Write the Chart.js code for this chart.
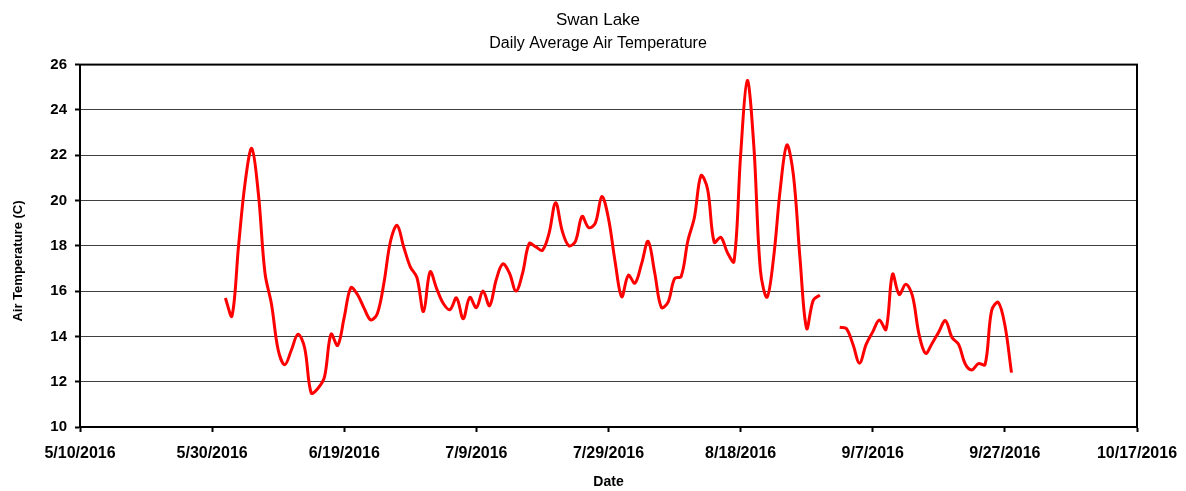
<!DOCTYPE html>
<html>
<head>
<meta charset="utf-8">
<title>Swan Lake</title>
<script src="https://cdn.jsdelivr.net/npm/chart.js@4/dist/chart.umd.min.js"></script>
<style>
  html, body { margin: 0; padding: 0; background: #fff; }
  #chart { display: block; }
</style>
</head>
<body>
<canvas id="chart" width="1186" height="491"></canvas>
<script>
// axis range (dates) and daily average air temperature (C)
const axisStart = '5/10/2016';
const axisEnd = '10/17/2016';
const tickStepDays = 20;
const yMin = 10, yMax = 26, yStep = 2;

const juneStart = '6/1/2016';
const juneTemps = [15.7, 14.9, 18.0, 20.8, 22.3, 20.3, 16.8, 15.4, 13.4, 12.75,
                   13.4, 14.1, 13.5, 11.5, 11.7, 12.2, 14.1, 13.6, 14.85, 16.15,
                   15.85, 15.25, 14.73, 15.0, 16.35, 18.2, 18.9, 17.95, 17.07, 16.6];

const julyStart = '7/1/2016';
const julyTemps = [15.1, 16.85, 16.1, 15.45, 15.18, 15.7, 14.78, 15.72, 15.27, 16.0,
                   15.35, 16.5, 17.2, 16.8, 16.0, 16.8, 18.1, 17.95, 17.8, 18.55,
                   19.9, 18.65, 18.0, 18.2, 19.3, 18.8, 19.0, 20.18, 19.2, 17.3, 15.75];

const augustStart = '8/1/2016';
const augustTemps = [16.7, 16.35, 17.2, 18.2, 16.8, 15.28, 15.5, 16.55, 16.65, 18.2,
                     19.25, 21.1, 20.5, 18.15, 18.38, 17.7, 17.3, 22.0, 25.3, 22.4,
                     16.9, 15.73, 17.5, 20.5, 22.45, 21.1, 17.4, 14.35, 15.6, 15.82, null];

const septemberStart = '9/1/2016';
const septemberTemps = [null, 14.4, 14.35, 13.65, 12.82, 13.65, 14.2, 14.72, 14.3, 16.75,
                        15.85, 16.3, 15.8, 14.1, 13.25, 13.7, 14.2, 14.7, 13.95, 13.65,
                        12.78, 12.52, 12.8, 12.75, 15.15, 15.5, 14.5, 12.4];

const yTitle = 'Air Temperature (C)';

const DAY = 86400000;

function parseDate(s) {
    const [m, d, y] = s.split('/').map(Number);
    return Date.UTC(y, m - 1, d);
}

function dayOffset(s) {
    return Math.round((parseDate(s) - parseDate(axisStart)) / DAY);
}

function formatDay(offset) {
    const dt = new Date(parseDate(axisStart) + offset * DAY);
    return (dt.getUTCMonth() + 1) + '/' + dt.getUTCDate() + '/' + dt.getUTCFullYear();
}

function toPoints(start, temps) {
    const first = dayOffset(start);
    return temps.map((t, i) => ({ x: first + i, y: t }));
}

const points = [
    ...toPoints(juneStart, juneTemps),
    ...toPoints(julyStart, julyTemps),
    ...toPoints(augustStart, augustTemps),
    ...toPoints(septemberStart, septemberTemps)
];

const font = 'Arial, "Liberation Sans", sans-serif';

// black box round the plot area and the vertical axis title, as in the original
const plotFrame = {
    id: 'plotFrame',
    afterDatasetsDraw(chart) {
        const { ctx, chartArea: a } = chart;
        ctx.save();
        ctx.strokeStyle = '#000';
        ctx.lineWidth = 2;
        ctx.strokeRect(a.left, a.top, a.right - a.left, a.bottom - a.top);

        ctx.translate(18, 261);
        ctx.rotate(-Math.PI / 2);
        ctx.fillStyle = '#000';
        ctx.font = 'bold 13px ' + font;
        ctx.textAlign = 'center';
        ctx.textBaseline = 'middle';
        ctx.fillText(yTitle, 0, 0);
        ctx.restore();
    }
};

new Chart(document.getElementById('chart'), {
    type: 'line',
    data: {
        datasets: [{
            label: 'Air Temperature',
            data: points,
            borderColor: '#ff0000',
            borderWidth: 3,
            pointRadius: 0,
            tension: 0.35,
            spanGaps: false,
            fill: false
        }]
    },
    options: {
        responsive: false,
        animation: false,
        layout: { padding: { left: 10, right: 0, top: 0, bottom: 0 } },
        plugins: {
            legend: { display: false },
            tooltip: { enabled: false },
            title: {
                display: true,
                text: 'Swan Lake',
                color: '#000',
                font: { family: font, size: 17, weight: 'normal' },
                padding: { top: 10, bottom: 4 }
            },
            subtitle: {
                display: true,
                text: 'Daily Average Air Temperature',
                color: '#000',
                font: { family: font, size: 16, weight: 'normal' },
                padding: { top: 0, bottom: 11 }
            }
        },
        scales: {
            x: {
                type: 'linear',
                min: 0,
                max: dayOffset(axisEnd),
                afterFit(scale) {
                    scale.height = 64;
                    scale.paddingLeft = 0;
                    scale.paddingRight = 0;
                },
                border: { display: true, color: '#000', width: 2 },
                grid: {
                    drawOnChartArea: false,
                    drawTicks: true,
                    tickLength: 5,
                    tickColor: '#000',
                    tickWidth: 2
                },
                ticks: {
                    stepSize: tickStepDays,
                    color: '#000',
                    padding: 12,
                    maxRotation: 0,
                    autoSkip: false,
                    font: { family: font, size: 16, weight: 'bold' },
                    callback: v => formatDay(v)
                },
                title: {
                    display: true,
                    text: 'Date',
                    color: '#000',
                    font: { family: font, size: 14, weight: 'bold' },
                    padding: { top: 0, bottom: 0 }
                }
            },
            y: {
                min: yMin,
                max: yMax,
                afterFit(scale) { scale.width = 70; },
                border: { display: true, color: '#000', width: 2 },
                grid: {
                    color: '#404040',
                    lineWidth: 1,
                    tickLength: 5,
                    tickColor: '#000',
                    tickWidth: 2
                },
                ticks: {
                    stepSize: yStep,
                    color: '#000',
                    padding: 8,
                    font: { family: font, size: 15, weight: 'bold' }
                }
            },
            // empty right-hand axis, only to keep the plot's right edge where the original has it
            yRight: {
                position: 'right',
                min: yMin,
                max: yMax,
                afterFit(scale) { scale.width = 49; },
                border: { display: false },
                grid: { display: false },
                ticks: { display: false }
            }
        }
    },
    plugins: [plotFrame]
});
</script>
</body>
</html>
